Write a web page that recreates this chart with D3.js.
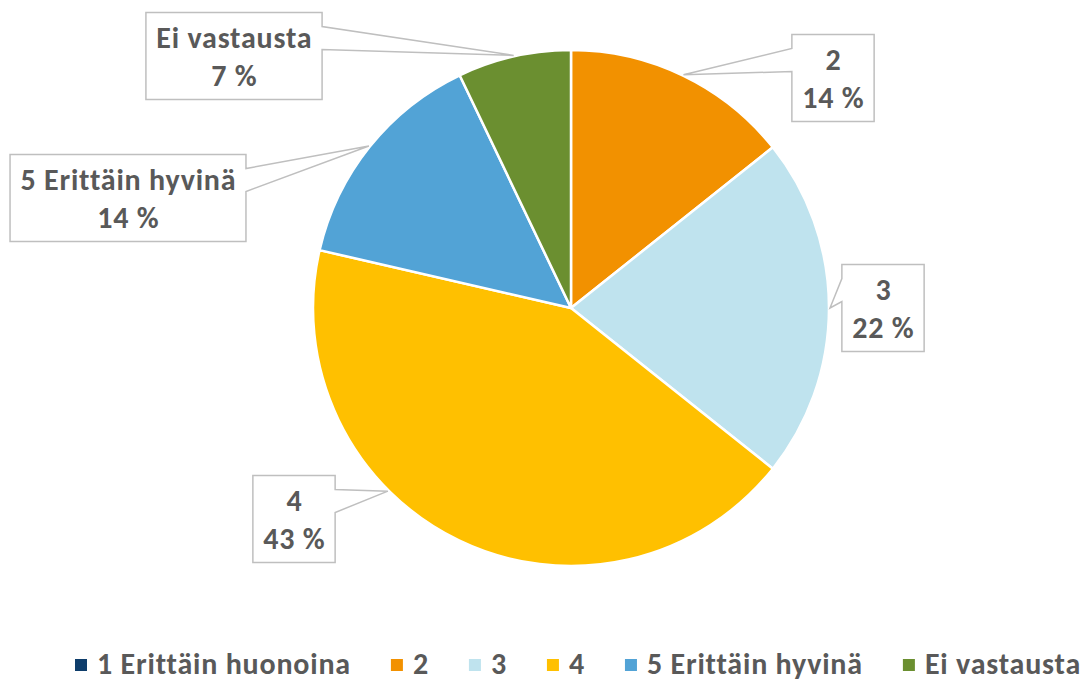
<!DOCTYPE html>
<html>
<head>
<meta charset="utf-8">
<script src="https://cdn.jsdelivr.net/npm/d3@7"></script>
<style>
  html, body { margin: 0; padding: 0; background: #ffffff; }
  svg { display: block; }
  text { font-family: Carlito, Lato, "Open Sans", sans-serif; font-weight: 700; fill: #595959; letter-spacing: 0.8px; }
</style>
</head>
<body>
<svg id="chart" width="1087" height="684"></svg>
<script>
// ---- data ----
const categories = ["1 Erittäin huonoina", "2", "3", "4", "5 Erittäin hyvinä", "Ei vastausta"];
const values = [0, 14.3, 21.4, 42.9, 14.3, 7.1];
const percentLabels = ["0 %", "14 %", "22 %", "43 %", "14 %", "7 %"];
const colors = ["#0E3D6B", "#F29100", "#BFE3EE", "#FFC000", "#52A3D6", "#6B8F30"];

// ---- layout ----
const W = 1087, H = 684;
const cx = 571, cy = 308, R = 258;
const labelFont = 30, legendFont = 30;
// callout box centres (label layout), optional tip-angle override (degrees)
const labelBoxCenter = [null, [833, 78], [883, 308], [294, 519], [128, 198], [234, 56]];
const tipAngleDeg = [null, null, null, 225, null, null];

const svg = d3.select("#chart");
const data = categories.map((c, i) => ({ cat: c, value: values[i], pct: percentLabels[i], color: colors[i], i }));

const pie = d3.pie().sort(null).value(d => d.value);
const arcs = pie(data);
const arc = d3.arc().innerRadius(0).outerRadius(R);

const g = svg.append("g").attr("transform", `translate(${cx},${cy})`);
g.selectAll("path.slice")
  .data(arcs.filter(a => a.data.value > 0))
  .join("path")
  .attr("class", "slice")
  .attr("d", arc)
  .attr("fill", d => d.data.color)
  .attr("stroke", "#ffffff")
  .attr("stroke-width", 2.5)
  .attr("stroke-linejoin", "round");

// ---- callouts ----
const lg = svg.append("g");
arcs.forEach(a => {
  const i = a.data.i;
  if (a.data.value <= 0 || !labelBoxCenter[i]) return;
  const ang = tipAngleDeg[i] != null ? tipAngleDeg[i] * Math.PI / 180 : (a.startAngle + a.endAngle) / 2;
  const tip = [cx + (R + 1) * Math.sin(ang), cy - (R + 1) * Math.cos(ang)];
  const [bx, by] = labelBoxCenter[i];
  const grp = lg.append("g");
  const t1 = grp.append("text").attr("text-anchor", "middle").attr("font-size", labelFont).text(a.data.cat);
  const t2 = grp.append("text").attr("text-anchor", "middle").attr("font-size", labelFont).text(a.data.pct);
  const tw = Math.max(t1.node().getComputedTextLength(), t2.node().getComputedTextLength());
  const bw = tw + 20, bh = 87;
  const left = bx - bw / 2, right = bx + bw / 2, top = by - bh / 2, bottom = by + bh / 2;
  t1.attr("x", bx + 0.4).attr("y", top + 35);
  t2.attr("x", bx + 0.4).attr("y", top + 73);
  let p;
  if (tip[0] > right) {
    p = `M${left},${top}H${right}V${top + 14}L${tip[0]},${tip[1]}L${right},${top + 37}V${bottom}H${left}Z`;
  } else {
    p = `M${left},${top}H${right}V${bottom}H${left}V${top + 37}L${tip[0]},${tip[1]}L${left},${top + 14}Z`;
  }
  grp.insert("path", "text").attr("d", p).attr("fill", "#ffffff").attr("stroke", "#BFBFBF").attr("stroke-width", 1.5);
});

// ---- legend ----
const leg = svg.append("g");
let x = 75;
data.forEach(d => {
  leg.append("rect").attr("x", x).attr("y", 659).attr("width", 12).attr("height", 12).attr("fill", d.color);
  const t = leg.append("text").attr("x", x + 22).attr("y", 674).attr("font-size", legendFont).text(d.cat);
  x = x + 22 + t.node().getComputedTextLength() + 40;
});
</script>
</body>
</html>
